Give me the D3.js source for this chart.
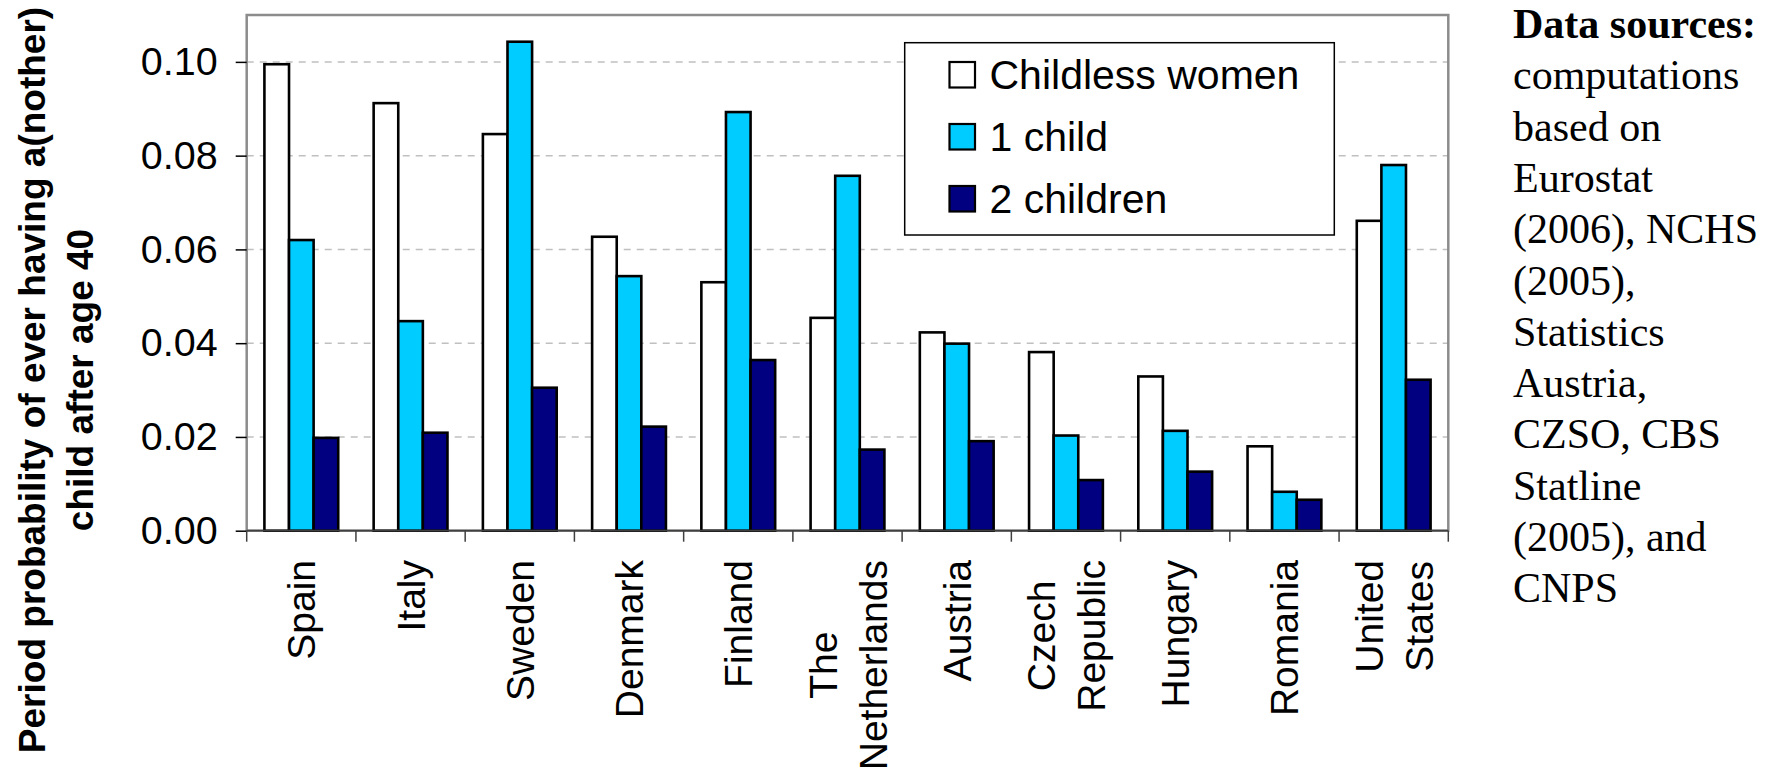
<!DOCTYPE html>
<html>
<head>
<meta charset="utf-8">
<script src="https://cdnjs.cloudflare.com/ajax/libs/d3/7.8.5/d3.min.js"></script>
<style>
  html, body { margin: 0; padding: 0; background: #ffffff; }
  svg { display: block; }
</style>
</head>
<body>
<svg id="chart" width="1778" height="769"></svg>
<script>
// Countries (line breaks split long names over two lines)
const countries = ["Spain", "Italy", "Sweden", "Denmark", "Finland", "The\nNetherlands",
                   "Austria", "Czech\nRepublic", "Hungary", "Romania", "United\nStates"];

// Series names
const seriesNames = ["Childless women", "1 child", "2 children"];

// Period probability of ever having a(nother) child after age 40
const childless = [0.0995, 0.0912, 0.0846, 0.0627, 0.0530, 0.0454, 0.0423, 0.0381, 0.0329, 0.0180, 0.0661];
const oneChild  = [0.0620, 0.0447, 0.1043, 0.0543, 0.0893, 0.0757, 0.0399, 0.0203, 0.0213, 0.0083, 0.0780];
const twoChildren = [0.0198, 0.0209, 0.0305, 0.0222, 0.0364, 0.0173, 0.0191, 0.0108, 0.0126, 0.0066, 0.0322];

// Y axis ticks
const yTicks = [0.00, 0.02, 0.04, 0.06, 0.08, 0.10];
const yMax = 0.11;

// Side note text
const sourceLines = ["computations", "based on", "Eurostat", "(2006), NCHS", "(2005),",
                     "Statistics", "Austria,", "CZSO, CBS", "Statline", "(2005), and", "CNPS"];

const seriesValues = [childless, oneChild, twoChildren];
const seriesColors = ["#ffffff", "#00ccff", "#000080"];

const svg = d3.select("#chart");
const sans = "'Liberation Sans', Arial, Helvetica, sans-serif";
const serif = "'Liberation Serif', 'Times New Roman', serif";

const plot = { left: 246.7, top: 15, right: 1448.3, bottom: 530.7 };
const W = plot.right - plot.left;
const H = plot.bottom - plot.top;

const g = svg.append("g").attr("transform", `translate(${plot.left},${plot.top})`);

const x0 = d3.scaleBand().domain(countries).range([0, W]).paddingInner(0).paddingOuter(0);
const x1 = d3.scaleBand().domain(seriesNames).range([0, x0.bandwidth()]).paddingInner(0).paddingOuter(0.72);
const y = d3.scaleLinear().domain([0, yMax]).range([H, 0]);

// Dashed gridlines
g.append("g").selectAll("line")
  .data(yTicks.filter(d => d > 0))
  .join("line")
  .attr("x1", 0).attr("x2", W)
  .attr("y1", d => y(d)).attr("y2", d => y(d))
  .attr("stroke", "#c0c0c0")
  .attr("stroke-width", 1.5)
  .attr("stroke-dasharray", "7,6");

// Plot area frame
g.append("rect")
  .attr("x", 0).attr("y", 0).attr("width", W).attr("height", H)
  .attr("fill", "none")
  .attr("stroke", "#8c8c8c")
  .attr("stroke-width", 2.5);

// Bars
const rows = countries.map((c, i) => ({ country: c, values: seriesNames.map((s, j) => ({ s, j, v: seriesValues[j][i] })) }));
g.append("g").selectAll("g")
  .data(rows)
  .join("g")
  .attr("transform", d => `translate(${x0(d.country)},0)`)
  .selectAll("rect")
  .data(d => d.values)
  .join("rect")
  .attr("x", d => x1(d.s))
  .attr("width", x1.bandwidth())
  .attr("y", d => y(d.v))
  .attr("height", d => H - y(d.v))
  .attr("fill", d => seriesColors[d.j])
  .attr("stroke", "#000000")
  .attr("stroke-width", 2.6);

// Y axis
const yAxis = d3.axisLeft(y)
  .tickValues(yTicks)
  .tickFormat(d3.format(".2f"))
  .tickSize(11)
  .tickPadding(18);
const yg = g.append("g").call(yAxis);
yg.select(".domain").remove();
yg.selectAll(".tick line").attr("stroke", "#000").attr("stroke-width", 1.5);
yg.selectAll(".tick text")
  .attr("font-family", sans)
  .attr("font-size", 39.5)
  .attr("fill", "#000");

// X axis line and category boundary ticks
g.append("line")
  .attr("x1", 0).attr("x2", W).attr("y1", H).attr("y2", H)
  .attr("stroke", "#404040").attr("stroke-width", 1.8);
const boundaries = countries.map(c => x0(c)).concat([x0.range()[1]]);
g.append("g").selectAll("line")
  .data(boundaries)
  .join("line")
  .attr("x1", d => d).attr("x2", d => d)
  .attr("y1", H).attr("y2", H + 11)
  .attr("stroke", "#404040").attr("stroke-width", 1.5);

// Category labels, rotated, top-aligned block with centred lines
const labelTop = 560 - plot.top;
const labelFont = 39;
const lineGap = 50;
countries.forEach(c => {
  const lines = c.split("\n");
  const cx = x0(c) + x0.bandwidth() / 2;
  const grp = g.append("g");
  const texts = lines.map((t, k) => grp.append("text")
    .attr("font-family", sans)
    .attr("font-size", labelFont)
    .attr("fill", "#000")
    .attr("text-anchor", "middle")
    .text(t));
  const maxLen = d3.max(texts, t => t.node().getComputedTextLength());
  const mid = labelTop + maxLen / 2;
  texts.forEach((t, k) => {
    const off = (k - (lines.length - 1) / 2) * lineGap;
    const bx = cx + off + labelFont * 0.36;
    t.attr("transform", `translate(${bx},${mid}) rotate(-90)`);
  });
});

// Y axis title
const titleLines = ["Period probability of ever having a(nother)", "child after age 40"];
const titleCenterY = 380;
titleLines.forEach((t, k) => {
  svg.append("text")
    .attr("transform", `translate(${45 + k * 48},${titleCenterY}) rotate(-90)`)
    .attr("text-anchor", "middle")
    .attr("font-family", sans)
    .attr("font-weight", "bold")
    .attr("font-size", 37)
    .attr("fill", "#000")
    .text(t);
});

// Legend
const legend = svg.append("g");
legend.append("rect")
  .attr("x", 904.7).attr("y", 42.7).attr("width", 429.6).attr("height", 192.3)
  .attr("fill", "#fff").attr("stroke", "#000").attr("stroke-width", 1.5);
seriesNames.forEach((s, j) => {
  const yb = 89 + j * 62;
  legend.append("rect")
    .attr("x", 949.5).attr("y", yb - 27).attr("width", 25.5).attr("height", 25.5)
    .attr("fill", seriesColors[j]).attr("stroke", "#000").attr("stroke-width", 2.2);
  legend.append("text")
    .attr("x", 989.5).attr("y", yb)
    .attr("font-family", sans).attr("font-size", 41).attr("fill", "#000")
    .text(s);
});

// Data sources note
const note = svg.append("g");
note.append("text")
  .attr("x", 1513).attr("y", 38)
  .attr("font-family", serif).attr("font-weight", "bold").attr("font-size", 42).attr("fill", "#000")
  .text("Data sources:");
sourceLines.forEach((t, k) => {
  note.append("text")
    .attr("x", 1513).attr("y", 38 + (k + 1) * 51.3)
    .attr("font-family", serif).attr("font-size", 42).attr("fill", "#000")
    .text(t);
});
</script>
</body>
</html>
